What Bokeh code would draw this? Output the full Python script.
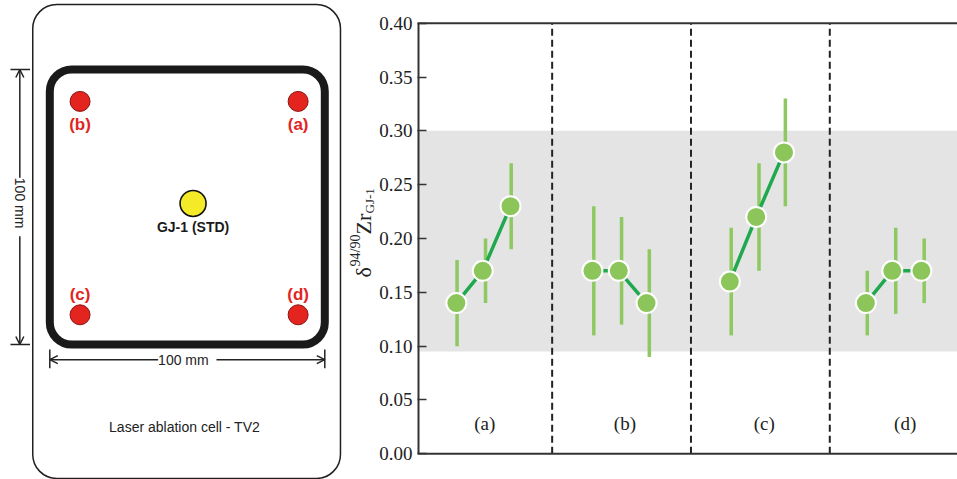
import numpy as np
from bokeh.plotting import figure
from bokeh.models import (Range1d, FixedTicker, Span, BoxAnnotation, Label, Arrow, OpenHead)
from bokeh.layouts import row
from bokeh.embed import file_html
from bokeh.resources import INLINE
from bokeh.core.properties import value

# ---------------- data: right chart ----------------
groups = ["(a)", "(b)", "(c)", "(d)"]
group_label_x = [0.515, 1.524, 2.528, 3.543]
separators = [1, 2, 3]
x_points = [[0.31, 0.50, 0.70], [1.29, 1.48, 1.68], [2.28, 2.47, 2.67], [3.26, 3.45, 3.66]]
x_bars = [[0.315, 0.52, 0.705], [1.30, 1.50, 1.70], [2.29, 2.49, 2.68], [3.27, 3.475, 3.68]]
delta = [[0.14, 0.17, 0.23], [0.17, 0.17, 0.14], [0.16, 0.22, 0.28], [0.14, 0.17, 0.17]]
err_low = [[0.10, 0.14, 0.19], [0.11, 0.12, 0.09], [0.11, 0.17, 0.23], [0.11, 0.13, 0.14]]
err_high = [[0.18, 0.20, 0.27], [0.23, 0.22, 0.19], [0.21, 0.27, 0.33], [0.17, 0.21, 0.20]]
band_low, band_high = 0.095, 0.30
y_min, y_max = 0.0, 0.40
y_ticks = [0.0, 0.05, 0.10, 0.15, 0.20, 0.25, 0.30, 0.35, 0.40]
y_tick_labels = ["0.00", "0.05", "0.10", "0.15", "0.20", "0.25", "0.30", "0.35", "0.40"]
x_start, x_end = 0.03, 3.92

# ---------------- data: left schematic (mm) ----------------
sample_names = ["(a)", "(b)", "(c)", "(d)"]
sample_x_mm = [90.3, 11.0, 11.0, 90.3]
sample_y_mm = [11.6, 11.6, 89.2, 89.2]
sample_label_dy_mm = [8.4, 8.4, -7.4, -7.4]
std_name = "GJ-1 (STD)"
std_x_mm, std_y_mm = [52.1], [48.7]
std_label_dy_mm = 8.6
holder_size_mm = 100
cell_box_mm = dict(left=-6.2, right=105.7, top=-23.6, bottom=148.7)
dim_label = "100 mm"
cell_title = "Laser ablation cell - TV2"

SANS = "Liberation Sans"
SERIF = "Liberation Serif"
INK = "#222222"
AXIS = "#333333"

# ---------------- left figure (schematic + y label of the chart) ----------------
PX_PER_MM = 2.75
X0_PX, Y0_PX = 49.3, 69.0
L_W, H = 376, 479


def px2mm_x(px):
    return (px - X0_PX) / PX_PER_MM


def px2mm_y(py):
    return (py - Y0_PX) / PX_PER_MM


left = figure(width=L_W, height=H,
              x_range=Range1d(px2mm_x(0), px2mm_x(L_W)),
              y_range=Range1d(px2mm_y(H), px2mm_y(0)),
              output_backend="svg", toolbar_location=None, min_border=0,
              x_axis_location=None, y_axis_location=None, outline_line_color=None)
left.grid.visible = False

left.quad(left=[cell_box_mm["left"]], right=[cell_box_mm["right"]],
          top=[cell_box_mm["top"]], bottom=[cell_box_mm["bottom"]],
          border_radius=24, fill_color=None, line_color="#231f20", line_width=1.5)
left.quad(left=[0], right=[holder_size_mm], top=[0], bottom=[holder_size_mm],
          border_radius=22, fill_color=None, line_color="#1a1a1a", line_width=8)

# dimension lines
vx = -10.9
hy = 105.5
left.segment(x0=[-14.3, -14.3], x1=[-7.2, -7.2], y0=[0, holder_size_mm], y1=[0, holder_size_mm],
             line_color=INK, line_width=1.5)
left.segment(x0=[0, holder_size_mm], x1=[0, holder_size_mm], y0=[101.8, 101.8], y1=[108.6, 108.6],
             line_color=INK, line_width=1.5)
left.add_layout(Arrow(start=OpenHead(size=8, line_width=1.5, line_color=INK),
                      end=OpenHead(size=8, line_width=1.5, line_color=INK),
                      x_start=vx, y_start=0, x_end=vx, y_end=holder_size_mm,
                      line_color=INK, line_width=1.5))
left.add_layout(Arrow(start=OpenHead(size=8, line_width=1.5, line_color=INK),
                      end=OpenHead(size=8, line_width=1.5, line_color=INK),
                      x_start=0, y_start=hy, x_end=holder_size_mm, y_end=hy,
                      line_color=INK, line_width=1.5))
left.add_layout(Label(x=vx, y=holder_size_mm / 2, text=" " + dim_label + " ", angle=-np.pi / 2,
                      text_align="center", text_baseline="middle", text_font=SANS,
                      text_font_size="14px", text_color=INK, background_fill_color="white"))
left.add_layout(Label(x=holder_size_mm / 2, y=hy, text=" " + dim_label + " ",
                      text_align="center", text_baseline="middle", text_font=SANS,
                      text_font_size="14px", text_color=INK, background_fill_color="white"))

# samples
left.scatter(sample_x_mm, sample_y_mm, size=20, fill_color="#E3241F", line_color="#8a1515", line_width=1)
left.text(x=sample_x_mm, y=[y + d for y, d in zip(sample_y_mm, sample_label_dy_mm)], text=sample_names,
          text_font=value(SANS), text_font_style="bold", text_font_size="17px",
          text_color="#E3241F", text_align="center", text_baseline="middle")
left.scatter(std_x_mm, std_y_mm, size=26, fill_color="#F5EA27", line_color="#111111", line_width=1.6)
left.text(x=std_x_mm, y=[std_y_mm[0] + std_label_dy_mm], text=[std_name],
          text_font=value(SANS), text_font_style="bold", text_font_size="14px",
          text_color="#1a1a1a", text_align="center", text_baseline="middle")
left.text(x=[49.0], y=[130.0], text=[cell_title], text_font=value(SANS), text_font_size="14px",
          text_color=INK, text_align="center", text_baseline="middle")

# y-axis label of the chart: δ^{94/90}Zr_{GJ-1}  (rotated, reads bottom to top)
ylab_parts = [("δ", 363, 277, "22px"), ("94/90", 355, 266, "14px"),
              ("Zr", 363, 234, "22px"), ("GJ-1", 369, 213, "13px")]
for txt, bx_px, by_px, fs in ylab_parts:
    left.add_layout(Label(x=px2mm_x(bx_px), y=px2mm_y(by_px), text=txt, angle=np.pi / 2,
                          text_align="left", text_baseline="alphabetic", text_font=SERIF,
                          text_font_size=fs, text_color=INK))

# ---------------- right figure ----------------
FRAME_LEFT = 416
PX_PER_UNIT_Y = 1076.5
Y0_BOTTOM_PX = 453.3
R_W = 957 - L_W
y_lo = -(H - Y0_BOTTOM_PX) / PX_PER_UNIT_Y
y_hi = Y0_BOTTOM_PX / PX_PER_UNIT_Y
p = figure(width=R_W, height=H, x_range=Range1d(x_start, x_end), y_range=Range1d(y_lo, y_hi),
           output_backend="svg", toolbar_location=None,
           min_border_left=FRAME_LEFT - L_W, min_border_right=0, min_border_top=0, min_border_bottom=0,
           x_axis_location=None, outline_line_color=None)
p.grid.visible = False

p.yaxis.ticker = FixedTicker(ticks=y_ticks)
p.yaxis.major_label_overrides = {t: s for t, s in zip(y_ticks, y_tick_labels)}
p.yaxis.axis_line_color = None
p.yaxis.major_tick_in = 9
p.yaxis.major_tick_out = 0
p.yaxis.major_tick_line_width = 1.5
p.yaxis.major_tick_line_color = AXIS
p.yaxis.minor_tick_line_color = None
p.yaxis.major_label_standoff = 5
p.yaxis.major_label_text_font = SERIF
p.yaxis.major_label_text_font_size = "19px"
p.yaxis.major_label_text_color = INK

p.add_layout(BoxAnnotation(bottom=band_low, top=band_high, fill_color="#E4E4E4", fill_alpha=1.0,
                           line_color=None, level="underlay"))
# frame lines: bottom, top, left axis line
p.add_layout(Span(location=y_min, dimension="width", line_color=AXIS, line_width=2))
p.add_layout(Span(location=y_max, dimension="width", line_color=AXIS, line_width=2))
p.segment(x0=[x_start], x1=[x_start], y0=[y_min], y1=[y_max], line_color=AXIS, line_width=4)
# dashed separators
p.segment(x0=separators, x1=separators, y0=[y_min] * 3, y1=[y_max] * 3,
          line_color=INK, line_width=2, line_dash="7 4")

# error bars
bx = [v for g in x_bars for v in g]
blo = [v for g in err_low for v in g]
bhi = [v for g in err_high for v in g]
p.segment(x0=bx, x1=bx, y0=blo, y1=bhi, line_color="#8DC960", line_width=3.5)
# connecting lines
p.multi_line(xs=x_points, ys=delta, line_color="#20A84E", line_width=3.5)
# points
p.scatter([v for g in x_points for v in g], [v for g in delta for v in g], size=20,
          fill_color="#8CC65A", line_color="white", line_width=2)
# group labels
p.text(x=group_label_x, y=[0.028] * len(groups), text=groups, text_font=value(SERIF),
       text_font_size="19px", text_color=INK, text_align="center", text_baseline="middle")

layout = row(left, p)
open("out.html", "w").write(file_html(layout, INLINE))
